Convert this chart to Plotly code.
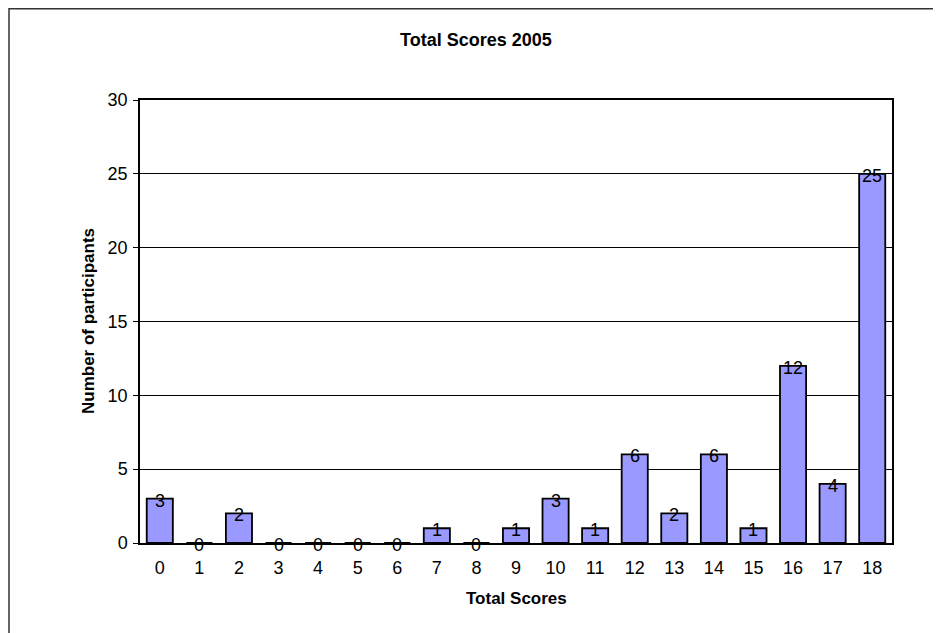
import plotly.graph_objects as go

scores = [str(i) for i in range(19)]
participants = [3, 0, 2, 0, 0, 0, 0, 1, 0, 1, 3, 1, 6, 2, 6, 1, 12, 4, 25]
y_ticks = [0, 5, 10, 15, 20, 25, 30]

title_text = "Total Scores 2005"
x_title = "Total Scores"
y_title = "Number of participants"

FONT = "Liberation Sans, Arial, sans-serif"

OFF = 8  # page body margin
W, H = 941, 633
# desired page-pixel plot area: x 140..892, y 100..543
L, T = 140 - OFF, 100 - OFF
R = W - (892 - OFF)
B = H - (543 - OFF)
pw, ph = W - L - R, H - T - B

def px_to_paper_x(px):
    return (px - OFF - L) / pw

def px_to_paper_y(py):
    return 1 - (py - OFF - T) / ph

fig = go.Figure()
fig.add_trace(go.Bar(
    x=scores, y=participants,
    marker=dict(color="#9999FF", line=dict(color="#000000", width=1.8)),
    showlegend=False, hoverinfo="x+y",
))

value_labels = [
    dict(x=s, y=v, xref="x", yref="y", text=str(v), showarrow=False,
         xanchor="center", yanchor="middle", yshift=-2,
         font=dict(family=FONT, size=18, color="#000000"))
    for s, v in zip(scores, participants)
]

fig.update_layout(
    width=W, height=H,
    margin=dict(l=L, r=R, t=T, b=B),
    paper_bgcolor="#FFFFFF", plot_bgcolor="#FFFFFF",
    bargap=0.34,
    font=dict(family=FONT, size=18, color="#000000"),
    xaxis=dict(
        type="category", showline=True, linecolor="#000000", linewidth=1.5,
        mirror=True, ticks="", showgrid=False, zeroline=False,
        ticklabelstandoff=8,
        tickfont=dict(family=FONT, size=18, color="#000000"),
    ),
    yaxis=dict(
        range=[0, 30], tickvals=y_ticks, showline=True, linecolor="#000000",
        linewidth=1.5, mirror=True, ticks="outside", ticklen=5,
        tickcolor="#000000", showgrid=True, gridcolor="#000000", gridwidth=1,
        zeroline=False, ticklabelstandoff=2,
        tickfont=dict(family=FONT, size=18, color="#000000"),
    ),
    shapes=[dict(
        type="rect", xref="paper", yref="paper",
        x0=px_to_paper_x(9), x1=px_to_paper_x(980),
        y0=px_to_paper_y(700), y1=px_to_paper_y(8.75),
        line=dict(color="#333333", width=1.5), fillcolor="rgba(0,0,0,0)",
        layer="below",
    )],
    annotations=value_labels + [
        dict(text="<b>" + title_text + "</b>", xref="paper", yref="paper",
             x=px_to_paper_x(476), y=px_to_paper_y(40), showarrow=False,
             xanchor="center", yanchor="middle",
             font=dict(family=FONT, size=18, color="#000000")),
        dict(text="<b>" + x_title + "</b>", xref="paper", yref="paper",
             x=px_to_paper_x(516), y=px_to_paper_y(598), showarrow=False,
             xanchor="center", yanchor="middle",
             font=dict(family=FONT, size=17, color="#000000")),
        dict(text="<b>" + y_title + "</b>", xref="paper", yref="paper",
             x=px_to_paper_x(88), y=px_to_paper_y(321), showarrow=False,
             xanchor="center", yanchor="middle", textangle=-90,
             font=dict(family=FONT, size=17, color="#000000")),
    ],
)

fig.write_html("out.html")
